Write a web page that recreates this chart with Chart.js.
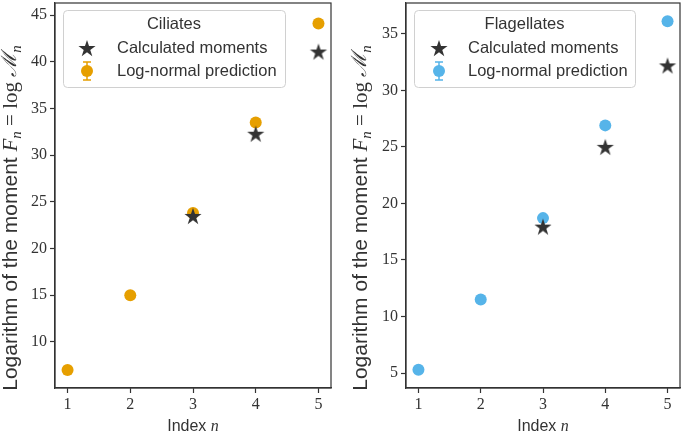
<!DOCTYPE html>
<html>
<head>
<meta charset="utf-8">
<script src="https://cdn.jsdelivr.net/npm/chart.js@4.4.1/dist/chart.umd.min.js"></script>
<style>
  html, body { margin: 0; padding: 0; background: #fff; }
  #wrap { position: relative; width: 684px; height: 435px; }
  .panel { position: absolute; top: 0; width: 342px; height: 435px; }
</style>
</head>
<body>
<div id="wrap">
  <div class="panel" style="left:0"><canvas id="ciliates-chart" width="342" height="435"></canvas></div>
  <div class="panel" style="left:342px"><canvas id="flagellates-chart" width="342" height="435"></canvas></div>
</div>
<script>
// valores
const indexN = [1, 2, 3, 4, 5];
const calcN = [3, 4, 5];
const ciliatesLogNormal = [7.0, 15.0, 23.8, 33.5, 44.1];
const ciliatesCalculated = [23.5, 32.3, 41.1];
const flagellatesLogNormal = [5.3, 11.5, 18.7, 26.9, 36.1];
const flagellatesCalculated = [17.95, 25.0, 32.2];
const xTicks = [1, 2, 3, 4, 5];
const ciliatesYTicks = [10, 15, 20, 25, 30, 35, 40, 45];
const flagellatesYTicks = [5, 10, 15, 20, 25, 30, 35];

const DARK = '#333333';
const ORANGE = '#E69F00';
const BLUE = '#56B4E9';
const SANS = '"Liberation Sans", Arial, sans-serif';
const SERIF = '"Liberation Serif", "DejaVu Serif", serif';

// estrela preenchida (o 'star' do Chart.js é só traço)
function makeStar(r, color) {
  const c = document.createElement('canvas');
  const s = Math.ceil(r * 2 + 2);
  c.width = s; c.height = s;
  const ctx = c.getContext('2d');
  drawStarPath(ctx, s / 2, s / 2 + r * 0.1, r);
  ctx.fillStyle = color;
  ctx.fill();
  return c;
}
function drawStarPath(ctx, cx, cy, r) {
  ctx.beginPath();
  for (let i = 0; i < 10; i++) {
    const rr = i % 2 === 0 ? r : r * 0.382;
    const a = -Math.PI / 2 + i * Math.PI / 5;
    const x = cx + rr * Math.cos(a), y = cy + rr * Math.sin(a);
    if (i === 0) ctx.moveTo(x, y); else ctx.lineTo(x, y);
  }
  ctx.closePath();
}
const starImg = makeStar(9, DARK);

function drawRich(ctx, parts, x, y, rotate) {
  ctx.save();
  ctx.translate(x, y);
  if (rotate) ctx.rotate(-Math.PI / 2);
  let total = 0;
  parts.forEach(p => { ctx.font = p.font; total += ctx.measureText(p.text).width; });
  let cx = -total / 2;
  ctx.textAlign = 'left';
  ctx.textBaseline = 'middle';
  ctx.fillStyle = DARK;
  parts.forEach(p => {
    ctx.font = p.font;
    ctx.fillText(p.text, cx, p.dy || 0);
    cx += ctx.measureText(p.text).width;
  });
  ctx.restore();
}

const YS = 21; // rótulo do eixo y
const XS = 16; // rótulo do eixo x
const yLabelParts = [
  { text: 'Logarithm of the moment ', font: `${YS}px ${SANS}` },
  { text: 'F', font: `italic ${YS}px ${SERIF}` },
  { text: 'n', font: `italic ${Math.round(YS * 0.7)}px ${SERIF}`, dy: YS * 0.28 },
  { text: ' = log ', font: `${YS}px ${SERIF}` },
  { text: '\u2133', font: `italic ${YS}px "DejaVu Serif", serif` },
  { text: 'n', font: `italic ${Math.round(YS * 0.7)}px ${SERIF}`, dy: YS * 0.28 }
];
const xLabelParts = [
  { text: 'Index ', font: `${XS}px ${SANS}` },
  { text: 'n', font: `italic ${XS}px ${SERIF}` }
];

// moldura, títulos dos eixos e legenda
const decorPlugin = {
  id: 'decor',
  afterDraw(chart, args, opts) {
    const ctx = chart.ctx;
    const a = chart.chartArea;
    ctx.save();
    ctx.strokeStyle = DARK;
    ctx.lineWidth = 1.2;
    ctx.strokeRect(a.left, a.top, a.right - a.left, a.bottom - a.top);
    ctx.restore();

    drawRich(ctx, yLabelParts, opts.yLabelX, opts.yLabelY, true);
    drawRich(ctx, xLabelParts, (a.left + a.right) / 2, opts.xLabelY, false);

    // legenda
    const lg = opts.legend;
    ctx.save();
    ctx.beginPath();
    ctx.roundRect(lg.x + 0.5, lg.y + 0.5, lg.w, lg.h, 4);
    ctx.fillStyle = 'rgba(255,255,255,0.8)';
    ctx.fill();
    ctx.strokeStyle = '#d0d0d0';
    ctx.lineWidth = 1;
    ctx.stroke();
    ctx.fillStyle = DARK;
    ctx.font = `${lg.fontSize}px ${SANS}`;
    ctx.textBaseline = 'middle';
    ctx.textAlign = 'center';
    ctx.fillText(lg.title, lg.x + lg.w / 2, lg.y + 14);
    ctx.textAlign = 'left';
    const mx = lg.x + lg.markerDx;
    const tx = lg.x + 54;
    const r1 = lg.y + 38, r2 = lg.y + 61;
    ctx.fillText('Calculated moments', tx, r1);
    ctx.fillText('Log-normal prediction', tx, r2);
    drawStarPath(ctx, mx, r1 + 0.9, 9);
    ctx.fill();
    // marcador com barra de erro
    ctx.strokeStyle = lg.color;
    ctx.fillStyle = lg.color;
    ctx.lineWidth = 1.5;
    ctx.beginPath();
    ctx.moveTo(mx, r2 - 9); ctx.lineTo(mx, r2 + 9);
    ctx.moveTo(mx - 4, r2 - 9); ctx.lineTo(mx + 4, r2 - 9);
    ctx.moveTo(mx - 4, r2 + 9); ctx.lineTo(mx + 4, r2 + 9);
    ctx.stroke();
    ctx.beginPath();
    ctx.arc(mx, r2, 6, 0, Math.PI * 2);
    ctx.fill();
    ctx.restore();
  }
};

function noPad(s) {
  s.paddingTop = 0; s.paddingBottom = 0; s.paddingLeft = 0; s.paddingRight = 0;
}

function makeChart(id, cfg) {
  const ctx = document.getElementById(id).getContext('2d');
  return new Chart(ctx, {
    type: 'scatter',
    data: {
      datasets: [
        {
          label: 'Calculated moments',
          data: calcN.map((n, i) => ({ x: n, y: cfg.calc[i] })),
          pointStyle: starImg,
          pointRadius: 9,
          backgroundColor: DARK
        },
        {
          label: 'Log-normal prediction',
          data: indexN.map((n, i) => ({ x: n, y: cfg.logNormal[i] })),
          pointStyle: 'circle',
          pointRadius: 6,
          borderWidth: 0,
          backgroundColor: cfg.color,
          borderColor: cfg.color
        }
      ]
    },
    options: {
      responsive: false,
      animation: false,
      events: [],
      layout: { autoPadding: false, padding: { top: 3, right: cfg.padRight, left: 0, bottom: 0 } },
      plugins: {
        legend: { display: false },
        tooltip: { enabled: false },
        decor: cfg.decor
      },
      scales: {
        x: {
          type: 'linear', min: 0.8, max: 5.2,
          afterBuildTicks: s => { s.ticks = xTicks.map(v => ({ value: v })); },
          afterFit: s => { s.height = 47; noPad(s); },
          grid: { drawOnChartArea: false, tickLength: 5, color: DARK, tickWidth: 1.2 },
          border: { color: DARK, width: 1.2 },
          ticks: { font: { family: SERIF, size: 16 }, color: DARK, padding: 2, maxRotation: 0 }
        },
        y: {
          type: 'linear', min: cfg.yMin, max: cfg.yMax,
          afterBuildTicks: s => { s.ticks = cfg.yTicks.map(v => ({ value: v })); },
          afterFit: s => { s.width = cfg.yWidth; noPad(s); },
          grid: { drawOnChartArea: false, tickLength: 5, color: DARK, tickWidth: 1.2 },
          border: { color: DARK, width: 1.2 },
          ticks: { font: { family: SERIF, size: 16 }, color: DARK, padding: 3 }
        }
      }
    },
    plugins: [decorPlugin]
  });
}

makeChart('ciliates-chart', {
  logNormal: ciliatesLogNormal,
  calc: ciliatesCalculated,
  color: ORANGE,
  yMin: 5.07, yMax: 46.3,
  yTicks: ciliatesYTicks,
  yWidth: 55,
  padRight: 11,
  decor: {
    yLabelX: 11, yLabelY: 218, xLabelY: 427,
    legend: { x: 63, y: 10, w: 222, h: 77, title: 'Ciliates', color: ORANGE, markerDx: 24, fontSize: 16.5 }
  }
});

makeChart('flagellates-chart', {
  logNormal: flagellatesLogNormal,
  calc: flagellatesCalculated,
  color: BLUE,
  yMin: 3.68, yMax: 37.72,
  yTicks: flagellatesYTicks,
  yWidth: 64,
  padRight: 4,
  decor: {
    yLabelX: 19, yLabelY: 218, xLabelY: 427,
    legend: { x: 72, y: 10, w: 221, h: 77, title: 'Flagellates', color: BLUE, markerDx: 25, fontSize: 16.5 }
  }
});
</script>
</body>
</html>
